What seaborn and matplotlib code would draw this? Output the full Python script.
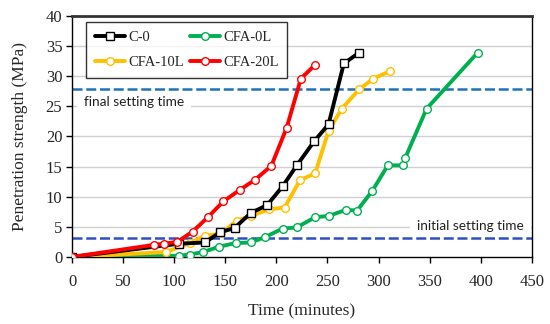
import numpy as np
import pandas as pd
import matplotlib
matplotlib.use("Agg")
import matplotlib.pyplot as plt
import seaborn as sns

# ---- data ----
c0_x = [0, 105, 130, 145, 159, 175, 191, 206, 220, 237, 251, 266, 281]
c0_y = [0, 2.2, 2.4, 4.1, 4.8, 7.3, 8.6, 11.7, 15.2, 19.2, 22.0, 32.1, 33.9]

cfa0_x = [0, 105, 115, 128, 144, 160, 175, 189, 206, 220, 238, 251, 268, 279, 294, 309, 324, 326, 347, 397]
cfa0_y = [0, 0.2, 0.4, 0.8, 1.7, 2.3, 2.4, 3.3, 4.7, 4.9, 6.6, 6.8, 7.8, 7.7, 11.0, 15.2, 15.2, 16.4, 24.6, 33.9]

cfa10_x = [0, 92, 115, 130, 146, 161, 175, 193, 208, 223, 238, 251, 264, 281, 295, 311]
cfa10_y = [0, 0.8, 2.3, 3.5, 3.9, 6.0, 6.8, 7.9, 8.2, 12.7, 13.9, 20.9, 24.6, 27.8, 29.6, 30.8]

cfa20_x = [0, 80, 90, 103, 118, 133, 148, 164, 179, 195, 210, 224, 238]
cfa20_y = [0, 2.0, 2.2, 2.5, 4.2, 6.6, 9.2, 11.1, 12.8, 15.1, 21.4, 29.6, 31.9]

series_names = ["C-0", "CFA-0L", "CFA-10L", "CFA-20L"]
initial_setting = 3.1
final_setting = 27.8
x_ticks = [0, 50, 100, 150, 200, 250, 300, 350, 400, 450]
y_ticks = [0, 5, 10, 15, 20, 25, 30, 35, 40]

# ---- style ----
sns.set_theme(style="white")
plt.rcParams['font.family'] = ['Liberation Serif', 'DejaVu Serif']

fig = plt.figure(figsize=(5.5, 3.24), dpi=100)
ax = fig.add_axes([0.131, 0.207, 0.836, 0.744])

colors = {"C-0": "#000000", "CFA-0L": "#00B050", "CFA-10L": "#FFC000", "CFA-20L": "#FF0000"}
markers = {"C-0": "s", "CFA-0L": "o", "CFA-10L": "o", "CFA-20L": "o"}

data = {
    "C-0": (c0_x, c0_y),
    "CFA-0L": (cfa0_x, cfa0_y),
    "CFA-10L": (cfa10_x, cfa10_y),
    "CFA-20L": (cfa20_x, cfa20_y),
}

# gridlines
for yv in y_ticks[1:-1]:
    ax.axhline(yv, color="#d0d0d0", lw=1.0, zorder=0)

for name in ["CFA-0L", "CFA-10L", "C-0", "CFA-20L"]:
    xs, ys = data[name]
    df = pd.DataFrame({"x": xs, "y": ys})
    sns.lineplot(data=df, x="x", y="y", ax=ax, sort=False, color=colors[name],
                 lw=2.8, marker=markers[name],
                 markersize=6 if markers[name] == "s" else 5.5,
                 markerfacecolor="white", markeredgecolor=colors[name],
                 markeredgewidth=1.0, label=name, zorder=3)

# setting time lines
ax.axhline(final_setting, color="#1f72b8", lw=1.8, ls=(0, (4, 1.5)), zorder=2)
ax.axhline(initial_setting, color="#2f4fc0", lw=1.8, ls=(0, (4, 1.5)), zorder=2)

ax.text(12, 25.7, "final setting time", family=["Lato", "DejaVu Sans"], fontsize=9.8,
        color="#222222", va="center", ha="left",
        bbox=dict(facecolor="white", edgecolor="none", pad=5), zorder=1.5)
ax.text(338, 5.1, "initial setting time", family=["Lato", "DejaVu Sans"], fontsize=9.8,
        color="#222222", va="center", ha="left",
        bbox=dict(facecolor="white", edgecolor="none", pad=5), zorder=1.5)

ax.set_xlim(0, 450)
ax.set_ylim(0, 40)
ax.set_xticks(x_ticks)
ax.set_yticks(y_ticks)
ax.set_xticklabels([str(v) for v in x_ticks], fontsize=12)
ax.set_yticklabels([str(v) for v in y_ticks], fontsize=12)
ax.tick_params(axis="x", direction="out", length=4, width=1, color="black",
               bottom=True, pad=8)
ax.tick_params(axis="y", direction="out", length=4, width=1, color="black",
               left=True, pad=3)
ax.set_xlabel("Time (minutes)", fontsize=12.5, labelpad=10)
ax.set_ylabel("Penetration strength (MPa)", fontsize=12.5, labelpad=13)

for side in ["left", "bottom", "right"]:
    ax.spines[side].set_color("black")
    ax.spines[side].set_linewidth(1.0)
ax.spines["top"].set_color("#333333")
ax.spines["top"].set_linewidth(2.0)

# legend
handles, labels = ax.get_legend_handles_labels()
idx = {l: i for i, l in enumerate(labels)}
leg_order = ["C-0", "CFA-10L", "CFA-0L", "CFA-20L"]  # column-wise fill
leg = ax.legend([handles[idx[n]] for n in leg_order], leg_order,
                ncol=2, loc="upper left", bbox_to_anchor=(0.03, 0.975),
                fontsize=10.5, frameon=True, fancybox=False, edgecolor="black",
                handlelength=2.1, handletextpad=0.2, columnspacing=0.4,
                borderpad=0.6, labelspacing=0.85, borderaxespad=0)
leg.get_frame().set_linewidth(1.0)

fig.savefig("out.png", dpi=100)
